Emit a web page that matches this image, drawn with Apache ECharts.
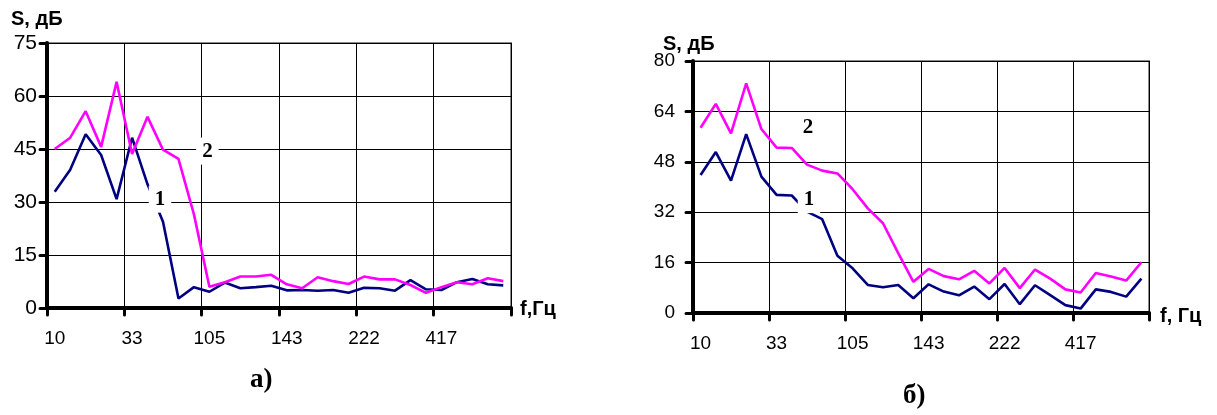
<!DOCTYPE html>
<html>
<head>
<meta charset="utf-8">
<script src="https://cdn.jsdelivr.net/npm/echarts@6/dist/echarts.min.js"></script>
<style>
html,body{margin:0;padding:0;background:#fff;}
#c{width:1217px;height:415px;}
</style>
</head>
<body>
<div id="c"></div>
<script>
// tick labels (frequency, Hz) shown every 5th point
const freqLabels = ['10', '33', '105', '143', '222', '417'];
// 30 measurement points per curve
const pointIds = Array.from({length: 30}, (_, i) => String(i + 1));

// chart а)
const a1 = [32.9, 39.1, 49.2, 43.3, 30.8, 48.2, 35.0, 24.4, 2.7, 5.9, 4.6, 7.2, 5.6, 5.9, 6.3, 5.0, 5.1, 4.9, 5.1, 4.3, 5.7, 5.6, 4.9, 7.9, 5.3, 5.1, 7.3, 8.2, 6.7, 6.4];
const a2 = [45.0, 48.2, 55.7, 45.6, 64.0, 43.6, 54.1, 44.8, 42.2, 26.5, 6.0, 7.3, 8.9, 8.9, 9.4, 6.7, 5.6, 8.7, 7.6, 6.8, 8.9, 8.1, 8.1, 6.5, 4.3, 5.9, 7.3, 6.7, 8.4, 7.6];
// chart б)
const b1 = [43.8, 51.1, 42.0, 56.8, 43.3, 37.5, 37.3, 32.2, 29.8, 18.2, 14.2, 8.9, 8.2, 8.9, 4.7, 9.1, 6.8, 5.6, 8.4, 4.4, 9.2, 2.8, 8.8, 5.7, 2.5, 1.4, 7.5, 6.7, 5.2, 10.9];
const b2 = [58.8, 66.4, 57.0, 72.9, 58.4, 52.5, 52.4, 47.1, 45.2, 44.3, 39.3, 33.2, 28.5, 19.0, 9.9, 14.0, 11.7, 10.7, 13.4, 9.4, 14.3, 7.9, 13.8, 10.9, 7.5, 6.5, 12.7, 11.6, 10.3, 16.1];

const SANS = 'Liberation Sans, Arial, sans-serif';
const SERIF = 'Liberation Serif, Times New Roman, serif';

function xAxisCfg(gridIndex) {
  return {
    type: 'category', gridIndex, data: pointIds, boundaryGap: true,
    axisLine: {show: true, lineStyle: {color: '#000', width: 4}},
    axisTick: {show: true, interval: 4, length: 7, lineStyle: {color: '#000', width: 3, cap: 'round'}},
    axisLabel: {interval: 4, margin: 21, color: '#000', fontSize: 19, fontFamily: SANS,
      formatter: (v, idx) => (idx % 5 === 0 ? freqLabels[idx / 5] : '')},
    splitLine: {show: true, interval: 4, lineStyle: {color: '#000', width: 1}}
  };
}
function yAxisCfg(gridIndex, max, interval, margin, fs) {
  return {
    type: 'value', gridIndex, min: 0, max, interval,
    axisLine: {show: true, lineStyle: {color: '#000', width: 4}},
    axisTick: {show: true, length: 7, lineStyle: {color: '#000', width: 3, cap: 'round'}},
    axisLabel: {margin, color: '#000', fontSize: fs, fontFamily: SANS},
    splitLine: {show: true, lineStyle: {color: '#000', width: 1}}
  };
}
function curveLabel(text, coord, offset) {
  return {
    symbol: 'rect', symbolSize: 1, silent: true,
    itemStyle: {color: 'rgba(0,0,0,0)'},
    label: {show: true, position: 'inside', formatter: text, offset,
      color: '#000', fontSize: 21, fontWeight: 'bold', fontFamily: SERIF,
      backgroundColor: '#fff', padding: [3, 6]},
    data: [{coord}]
  };
}
function lineSeries(data, color, xi, mp) {
  return {
    type: 'line', xAxisIndex: xi, yAxisIndex: xi, data,
    symbol: 'none', lineStyle: {color, width: 2.6}, itemStyle: {color},
    animation: false, markPoint: mp
  };
}

const chart = echarts.init(document.getElementById('c'), null, {renderer: 'canvas'});
chart.setOption({
  animation: false,
  backgroundColor: '#fff',
  grid: [
    {left: 47, top: 43, width: 464, height: 265, show: true, borderColor: '#8a8a8a', borderWidth: 2},
    {left: 693, top: 61, width: 456, height: 252, show: true, borderColor: '#8a8a8a', borderWidth: 2}
  ],
  xAxis: [xAxisCfg(0), xAxisCfg(1)],
  yAxis: [yAxisCfg(0, 75, 15, 10, 21), yAxisCfg(1, 80, 16, 18, 19)],
  series: [
    lineSeries(a1, '#000080', 0, curveLabel('1', [7, 30.8], [-3, 0])),
    lineSeries(a2, '#ff00ff', 0, curveLabel('2', [10, 44.4], [-2, 0])),
    lineSeries(b1, '#000080', 1, curveLabel('1', [7, 36], [2, 0])),
    lineSeries(b2, '#ff00ff', 1, curveLabel('2', [7, 59], [1, 0]))
  ],
  graphic: [
    {type: 'text', left: 11, top: 9, style: {text: 'S, дБ', font: 'bold 20px ' + SANS, fill: '#000'}},
    {type: 'text', left: 663, top: 34, style: {text: 'S, дБ', font: 'bold 20px ' + SANS, fill: '#000'}},
    {type: 'text', left: 520, top: 299, style: {text: 'f,Гц', font: 'bold 20px ' + SANS, fill: '#000'}},
    {type: 'text', left: 1160, top: 306, style: {text: 'f, Гц', font: 'bold 20px ' + SANS, fill: '#000'}},
    {type: 'text', left: 250, top: 367, style: {text: 'а)', font: 'bold 27px ' + SERIF, fill: '#000'}},
    {type: 'text', left: 903, top: 383, style: {text: 'б)', font: 'bold 27px ' + SERIF, fill: '#000'}}
  ]
});
</script>
</body>
</html>
